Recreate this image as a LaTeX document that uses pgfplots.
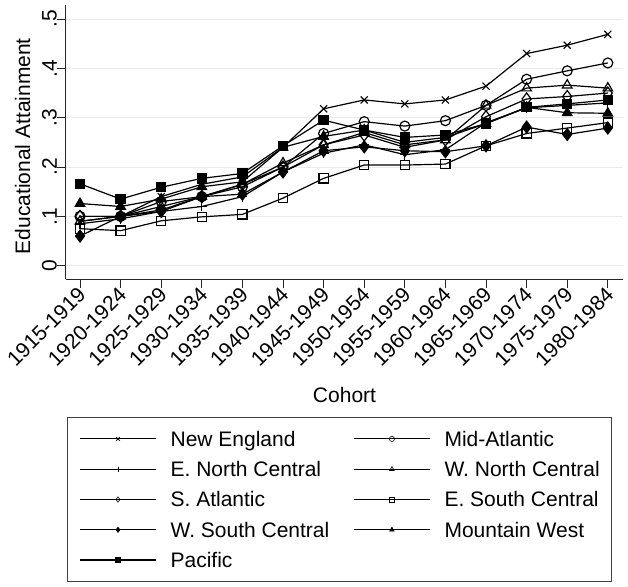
\documentclass[border=0pt]{standalone}
\usepackage{fontspec}
\setmainfont{Liberation Sans}
\usepackage{pgfplots}
\usepackage{pgfplotstable}
\pgfplotsset{compat=1.18}

% educational attainment by cohort, one column per census division
\pgfplotstableread{
i  ne   ma   enc  wnc  sa   esc  wsc  mw   pac
0  .090 .100 .085 .090 .100 .075 .060 .126 .166
1  .100 .100 .095 .100 .100 .071 .100 .120 .135
2  .140 .130 .110 .120 .110 .091 .113 .135 .159
3  .165 .140 .120 .140 .140 .099 .140 .160 .177
4  .180 .160 .140 .165 .165 .104 .145 .170 .187
5  .240 .200 .190 .208 .200 .137 .190 .240 .243
6  .318 .268 .228 .245 .245 .177 .233 .262 .295
7  .336 .292 .245 .270 .265 .204 .241 .275 .275
8  .328 .283 .225 .245 .240 .204 .233 .250 .260
9  .336 .294 .235 .255 .255 .206 .231 .260 .265
10 .364 .325 .290 .325 .302 .243 .243 .288 .288
11 .430 .378 .320 .360 .338 .268 .281 .321 .321
12 .447 .395 .325 .366 .343 .279 .266 .310 .328
13 .469 .411 .330 .360 .350 .290 .279 .309 .336
}\cohorts

\begin{document}
\begin{tikzpicture}[font=\fontsize{21}{25}\selectfont]
\useasboundingbox (-66pt,-307pt) rectangle (562pt,279pt);
\begin{axis}[
    scale only axis, width=557pt, height=274pt,
    anchor=south west, at={(0,0)},
    xmin=-0.345, xmax=13.374, ymin=-0.027, ymax=0.5285,
    axis x line=bottom, axis y line=left,
    axis line style={-, black!85, line width=1pt},
    tick align=outside, major tick length=9pt,
    tick style={black!85, line width=1pt},
    xtick={0,...,13},
    xticklabels={1915-1919,1920-1924,1925-1929,1930-1934,1935-1939,1940-1944,1945-1949,1950-1954,1955-1959,1960-1964,1965-1969,1970-1974,1975-1979,1980-1984},
    xticklabel style={xshift=2pt, yshift=-3pt, rotate=45, anchor=east, inner sep=0pt},
    ytick={0,.1,.2,.3,.4,.5},
    yticklabels={0,.1,.2,.3,.4,.5},
    yticklabel style={rotate=90, anchor=south, inner sep=0pt},
    /pgf/number format/assume math mode=true,
    ymajorgrids, major grid style={black!8, line width=1pt},
    xlabel={Cohort},
    xlabel style={at={(axis description cs:0.5,-0.449)}, anchor=base},
    ylabel={Educational Attainment},
    ylabel style={at={(axis description cs:-0.0646,0.485)}, anchor=base, rotate=0},
    every axis plot/.append style={black, line width=1.2pt, mark size=5pt, mark options={solid, line width=1.1pt}},
    legend columns=2, legend cell align=left,
    legend image code/.code={\draw[line width=1.2pt, #1, mark size=2.6pt, mark repeat=2, mark phase=2,
        every mark/.append style={line width=0.6pt}]
        plot coordinates {(0pt,0pt) (38pt,0pt) (76pt,0pt)};},
    legend style={at={(axis description cs:0.0018,-0.5036)}, anchor=north west,
        draw=black!75, line width=0.8pt, inner xsep=12pt, inner ysep=14pt,
        row sep=15.3pt, column sep=14pt,
        /tikz/every even column/.append style={column sep=24pt},
        nodes={inner sep=0pt, text height=15pt, text depth=0pt, anchor=west}},
    clip=false,
]
\addplot[mark=x] table[x=i, y=ne] {\cohorts};
\addlegendentry{New England}
\addplot[mark=o, mark options={fill=white}] table[x=i, y=ma] {\cohorts};
\addlegendentry{Mid-Atlantic}
\addplot[mark=+] table[x=i, y=enc] {\cohorts};
\addlegendentry{E. North Central}
\addplot[mark=triangle, mark size=5.5pt, mark options={fill=white}] table[x=i, y=wnc] {\cohorts};
\addlegendentry{W. North Central}
\addplot[mark=diamond, mark size=6pt, mark options={fill=white}] table[x=i, y=sa] {\cohorts};
\addlegendentry{S. Atlantic}
\addplot[mark=square, mark size=4.6pt, mark options={fill=white}] table[x=i, y=esc] {\cohorts};
\addlegendentry{E. South Central}
\addplot[mark=diamond*, mark size=6pt] table[x=i, y=wsc] {\cohorts};
\addlegendentry{W. South Central}
\addplot[mark=triangle*, mark size=5.5pt] table[x=i, y=mw] {\cohorts};
\addlegendentry{Mountain West}
\addplot[mark=square*, mark size=4.6pt] table[x=i, y=pac] {\cohorts};
\addlegendentry{Pacific}
\end{axis}
\end{tikzpicture}
\end{document}
